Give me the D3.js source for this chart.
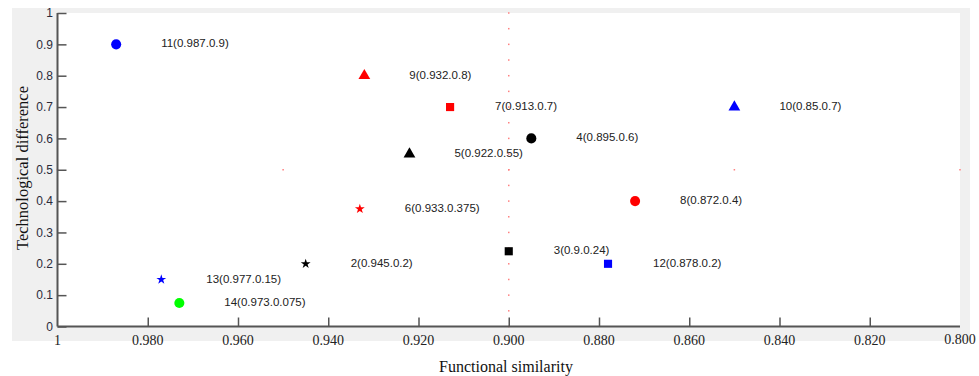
<!DOCTYPE html>
<html>
<head>
<meta charset="utf-8">
<script src="https://cdn.jsdelivr.net/npm/d3@7"></script>
<style>
  html, body { margin: 0; padding: 0; background: #ffffff; }
  svg { display: block; }
</style>
</head>
<body>
<svg id="chart" width="979" height="376"></svg>
<script>
// ---- data ----
const ids     = [2, 3, 4, 5, 6, 7, 8, 9, 10, 11, 12, 13, 14];
const xVals   = [0.945, 0.9, 0.895, 0.922, 0.933, 0.913, 0.872, 0.932, 0.85, 0.987, 0.878, 0.977, 0.973];
const yVals   = [0.2, 0.24, 0.6, 0.55, 0.375, 0.7, 0.4, 0.8, 0.7, 0.9, 0.2, 0.15, 0.075];
const shapes  = ["star", "square", "circle", "triangle", "star", "square", "circle", "triangle", "triangle", "circle", "square", "star", "circle"];
const colors  = ["#000000", "#000000", "#000000", "#000000", "#ff0000", "#ff0000", "#ff0000", "#ff0000", "#0000ff", "#0000ff", "#0000ff", "#0000ff", "#00ff00"];
const xTicks  = [0.98, 0.96, 0.94, 0.92, 0.90, 0.88, 0.86, 0.84, 0.82];
const xTickLabels = ["0.980", "0.960", "0.940", "0.920", "0.900", "0.880", "0.860", "0.840", "0.820"];
const yTicks  = [0, 0.1, 0.2, 0.3, 0.4, 0.5, 0.6, 0.7, 0.8, 0.9, 1];
const yTickLabels = ["0", "0.1", "0.2", "0.3", "0.4", "0.5", "0.6", "0.7", "0.8", "0.9", "1"];
const xEndLabels = ["1", "0.800"];
const refX = 0.9, refY = 0.5;
const xTitle = "Functional similarity";
const yTitle = "Technological difference";

// ---- layout ----
const svg = d3.select("#chart");
const L = 57.5, R = 960, T = 13, B = 326.5;
const x = d3.scaleLinear().domain([1, 0.8]).range([L, R]);
const y = d3.scaleLinear().domain([0, 1]).range([B, T]);

// gray figure panel
svg.append("rect").attr("x", 12).attr("y", 8).attr("width", 958).attr("height", 333).attr("fill", "#f0f0f0");
// white plot area
svg.append("rect").attr("x", L).attr("y", T).attr("width", R - L).attr("height", B - T).attr("fill", "#ffffff");

// reference dotted lines
const vDots = d3.range(0, 21).map(i => i * 0.05);
svg.append("g").selectAll("rect").data(vDots).join("rect")
  .attr("x", x(refX) - 0.75).attr("y", d => y(d) - 0.75)
  .attr("width", 1.5).attr("height", 1.5).attr("fill", "#ff8080");
const hDots = d3.range(0, 5).map(i => 1 - i * 0.05);
svg.append("g").selectAll("rect").data(hDots).join("rect")
  .attr("x", d => x(d) - 0.75).attr("y", y(refY) - 0.75)
  .attr("width", 1.5).attr("height", 1.5).attr("fill", "#ff8080");

// axes
const axisColor = "#555555";
const xAxis = d3.axisBottom(x).tickValues(xTicks).tickSize(-9).tickFormat(() => "");
const gx = svg.append("g").attr("transform", `translate(0,${B})`).call(xAxis);
gx.select(".domain").attr("stroke", axisColor).attr("stroke-width", 2).attr("d", `M${L},0H${R}`);
gx.selectAll(".tick line").attr("stroke", axisColor).attr("stroke-width", 1.5);

const yAxis = d3.axisLeft(y).tickValues(yTicks).tickSize(-9).tickFormat(() => "");
const gy = svg.append("g").attr("transform", `translate(${L},0)`).call(yAxis);
gy.select(".domain").attr("stroke", axisColor).attr("stroke-width", 2).attr("d", `M0,${T}V${B}`);
gy.selectAll(".tick line").attr("stroke", axisColor).attr("stroke-width", 1.5);

// tick labels
svg.append("g").selectAll("text").data(xTicks).join("text")
  .attr("x", d => x(d)).attr("y", 345)
  .attr("text-anchor", "middle")
  .attr("font-family", "'Liberation Serif', 'Times New Roman', serif")
  .attr("font-size", 14).attr("fill", "#222")
  .text((d, i) => xTickLabels[i]);
svg.append("text").attr("x", x(1)).attr("y", 345).attr("text-anchor", "middle")
  .attr("font-family", "'Liberation Serif', 'Times New Roman', serif")
  .attr("font-size", 14).attr("fill", "#222").text(xEndLabels[0]);
svg.append("text").attr("x", x(0.8)).attr("y", 344).attr("text-anchor", "middle")
  .attr("font-family", "'Liberation Serif', 'Times New Roman', serif")
  .attr("font-size", 14).attr("fill", "#222").text(xEndLabels[1]);

svg.append("g").selectAll("text").data(yTicks).join("text")
  .attr("x", 53).attr("y", d => y(d)).attr("dy", "0.35em")
  .attr("text-anchor", "end")
  .attr("font-family", "'Liberation Sans', Arial, sans-serif")
  .attr("font-size", 12).attr("fill", "#2b2b3a")
  .text((d, i) => yTickLabels[i]);

// axis titles
svg.append("text").attr("x", 506).attr("y", 372).attr("text-anchor", "middle")
  .attr("font-family", "'Liberation Serif', 'Times New Roman', serif")
  .attr("font-size", 16).attr("fill", "#111").text(xTitle);
svg.append("text").attr("transform", "translate(28,168) rotate(-90)").attr("text-anchor", "middle")
  .attr("font-family", "'Liberation Serif', 'Times New Roman', serif")
  .attr("font-size", 16.5).attr("fill", "#111").text(yTitle);

// points
const symType = { circle: d3.symbolCircle, square: d3.symbolSquare, triangle: d3.symbolTriangle, star: d3.symbolStar };
const symSize = { circle: 80, square: 66, triangle: 60, star: 30 };
const pts = ids.map((id, i) => ({ id, x: xVals[i], y: yVals[i], shape: shapes[i], color: colors[i] }));

svg.append("g").selectAll("path").data(pts).join("path")
  .attr("transform", d => `translate(${x(d.x)},${y(d.y)})`)
  .attr("d", d => d3.symbol(symType[d.shape], symSize[d.shape])())
  .attr("fill", d => d.color);

svg.append("g").selectAll("text").data(pts).join("text")
  .attr("x", d => x(d.x) + 45).attr("y", d => y(d.y) - 1).attr("dy", "0.35em")
  .attr("font-family", "'Liberation Sans', Arial, sans-serif")
  .attr("font-size", 11.5).attr("fill", "#222")
  .text(d => `${d.id}(${d.x}.${d.y})`);
</script>
</body>
</html>
